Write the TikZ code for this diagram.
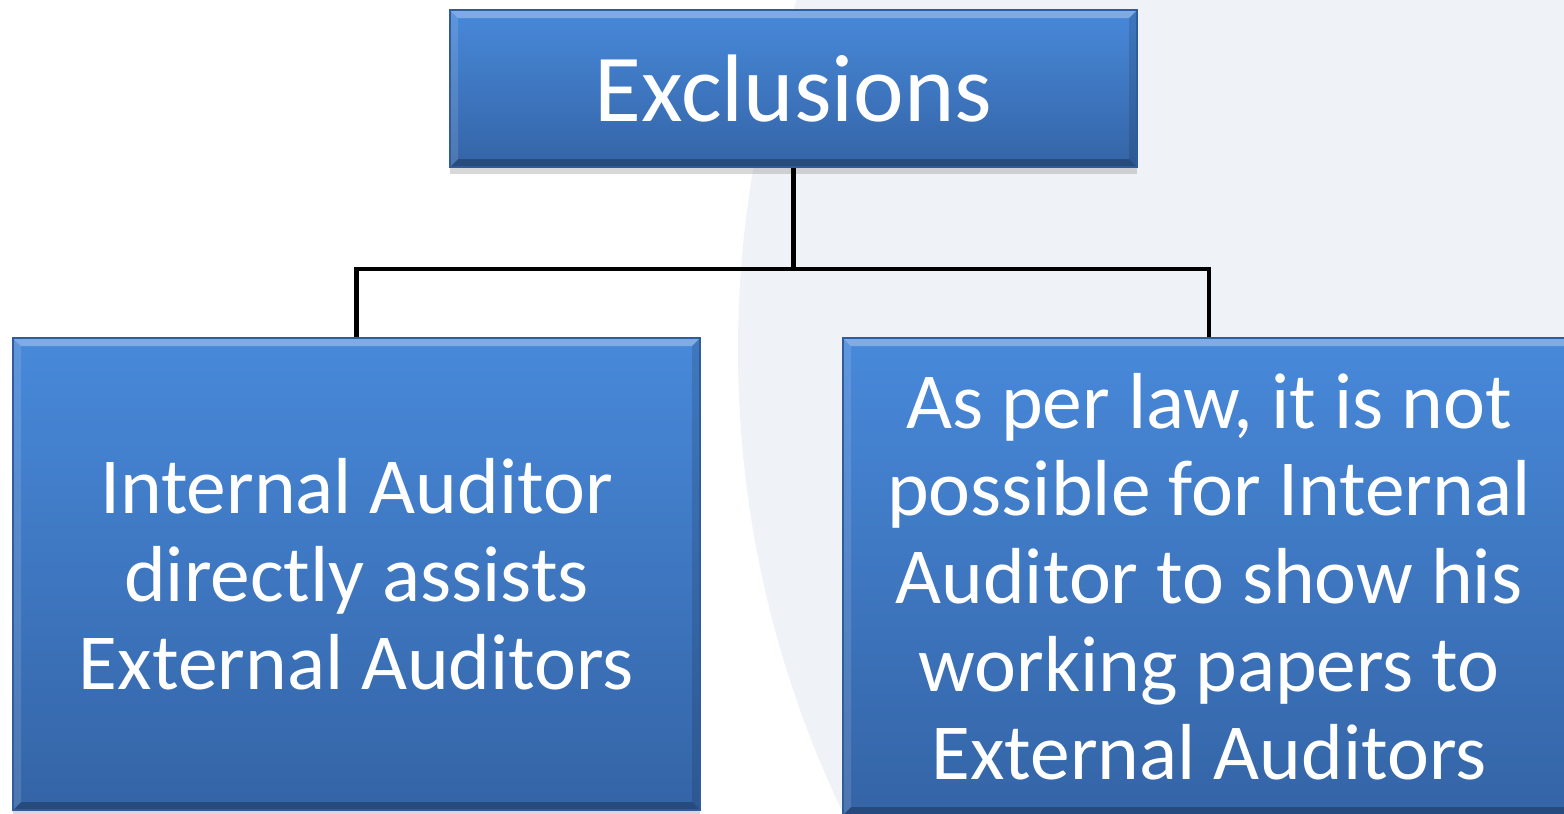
\documentclass[tikz,border=0pt]{standalone}
\usepackage{fontspec}
\setmainfont{Carlito}
\usetikzlibrary{shadows}

\definecolor{boxtop}{RGB}{72,137,218}
\definecolor{boxbottom}{RGB}{52,100,166}
\definecolor{boxline}{RGB}{48,92,155}
\definecolor{globe}{RGB}{239,242,246}

\begin{document}
\begin{tikzpicture}[
    blockbox/.style={draw=boxline, line width=0.6pt, top color=boxtop, bottom color=boxbottom,
        text=white, align=center, inner sep=0pt, minimum width=6.87cm,
        drop shadow={shadow xshift=0pt, shadow yshift=-0.7mm, opacity=0.3},
        path picture={
            % bevel: light top edge, dark bottom edge
            \fill[white, opacity=0.3] (path picture bounding box.north west) -- (path picture bounding box.north east)
                -- ++(-0.08,-0.08) -- ([xshift=0.08cm, yshift=-0.08cm]path picture bounding box.north west) -- cycle;
            \fill[black, opacity=0.25] (path picture bounding box.south west) -- (path picture bounding box.south east)
                -- ++(-0.08,0.08) -- ([xshift=0.08cm, yshift=0.08cm]path picture bounding box.south west) -- cycle;
            \fill[black, opacity=0.12] (path picture bounding box.north east) -- (path picture bounding box.south east)
                -- ++(-0.08,0.08) -- ([xshift=-0.08cm, yshift=-0.08cm]path picture bounding box.north east) -- cycle;
            \fill[white, opacity=0.12] (path picture bounding box.north west) -- (path picture bounding box.south west)
                -- ++(0.08,0.08) -- ([xshift=0.08cm, yshift=-0.08cm]path picture bounding box.north west) -- cycle;
        }},
    link/.style={draw=black, line width=1.2pt}
]
    \useasboundingbox (0,0) rectangle (15.64,-8.13);
    \clip (0,0) rectangle (15.64,-8.13);

    % background
    \fill[white] (0,0) rectangle (15.64,-8.13);
    \fill[globe] (18.08,-3.5) circle (10.7);

    \node[blockbox, minimum height=1.57cm, font=\fontsize{27.3}{32}\selectfont] (excl) at (7.935,-0.885) {Exclusions};

    \node[blockbox, minimum height=4.72cm, font=\fontsize{22.6}{25}\selectfont] (assist) at (3.565,-5.74)
        {Internal Auditor\\directly assists\\External Auditors};
    \node[blockbox, minimum width=7.32cm, minimum height=4.77cm, font=\fontsize{22.6}{25}\selectfont] (law) at (12.09,-5.765)
        {As per law, it is not\\possible for Internal\\Auditor to show his\\working papers to\\External Auditors};

    \coordinate (split) at ([yshift=-1.01cm]excl.south);
    \draw[link] (excl.south) -- (split);
    \draw[link] (split) -| (assist.north);
    \draw[link] (split) -| (law.north);
\end{tikzpicture}
\end{document}
